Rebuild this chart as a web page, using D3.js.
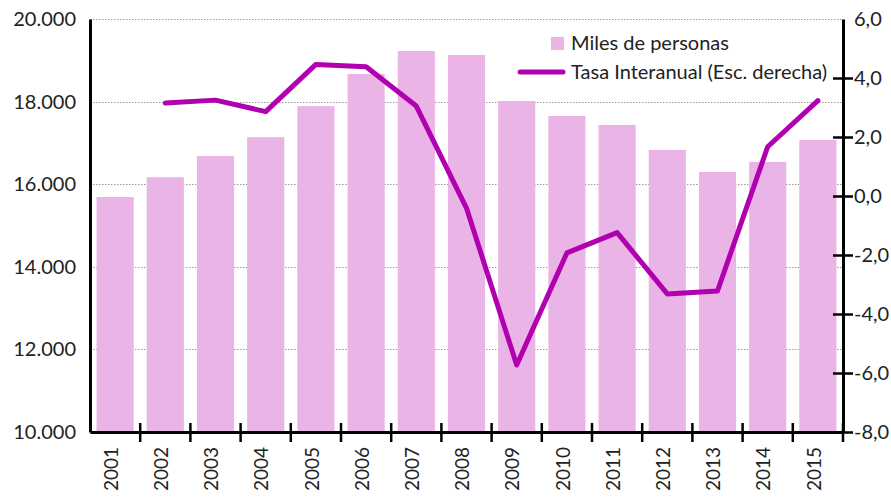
<!DOCTYPE html>
<html lang="es">
<head>
<meta charset="UTF-8">
<title>Miles de personas y tasa interanual</title>
<script src="https://d3js.org/d3.v7.min.js"></script>
<style>
    body { margin: 0; background: #fff; }
    text { font-family: Lato, "Open Sans", sans-serif; fill: #222; }
</style>
</head>
<body>
<div class="canvas"></div>
<script>
    // datos
    const years = ['2001','2002','2003','2004','2005','2006','2007','2008','2009','2010','2011','2012','2013','2014','2015']
    const miles = [15690, 16170, 16680, 17140, 17890, 18670, 19225, 19130, 18015, 17650, 17435, 16830, 16295, 16540, 17070]
    const tasa = [null, 3.15, 3.25, 2.86, 4.46, 4.38, 3.05, -0.41, -5.73, -1.93, -1.24, -3.32, -3.22, 1.67, 3.23]
    const leftTicks = [10000, 12000, 14000, 16000, 18000, 20000]
    const rightTicks = [-8, -6, -4, -2, 0, 2, 4, 6]
    const seriesNames = ['Miles de personas', 'Tasa Interanual (Esc. derecha)']

    const width = 891
    const height = 497
    let [mt, mb, ml, mr] = [19, 65, 90, 48]

    const barColor = '#eab4e6'
    const lineColor = '#b000b0'

    const es = d3.formatLocale({decimal: ',', thousands: '.', grouping: [3], currency: ['', ' €'], minus: '-'})

    const svg = d3.select('.canvas')
                .append('svg')
                .attr('width', width)
                .attr('height', height)

    const x = d3.scaleBand()
                .domain(years)
                .range([ml, width - mr])
    const yL = d3.scaleLinear()
                .domain([10000, 20000])
                .range([height - mb, mt])
    const yR = d3.scaleLinear()
                .domain([-8, 6])
                .range([height - mb, mt])

    // rejilla punteada
    svg.append('g')
        .selectAll('line')
        .data(leftTicks.slice(1))
        .join('line')
        .attr('x1', ml)
        .attr('x2', width - mr)
        .attr('y1', d => Math.round(yL(d)) + 0.5)
        .attr('y2', d => Math.round(yL(d)) + 0.5)
        .attr('stroke', '#9a9a9a')
        .attr('stroke-width', 1)
        .attr('stroke-dasharray', '1.5,1.5')

    // barras
    const barW = x.bandwidth() * 0.74
    svg.append('g')
        .selectAll('rect')
        .data(miles)
        .join('rect')
        .attr('x', (d, i) => x(years[i]) + (x.bandwidth() - barW) / 2)
        .attr('y', d => yL(d))
        .attr('width', barW)
        .attr('height', d => yL(10000) - yL(d))
        .attr('fill', barColor)

    // línea
    const line = d3.line()
                    .defined(d => d[1] != null)
                    .x(d => x(d[0]) + x.bandwidth() / 2)
                    .y(d => yR(d[1]))
    svg.append('path')
        .attr('d', line(years.map((y, i) => [y, tasa[i]])))
        .attr('fill', 'none')
        .attr('stroke', lineColor)
        .attr('stroke-width', 5)
        .attr('stroke-linecap', 'round')
        .attr('stroke-linejoin', 'round')

    // eje izquierdo
    const leftAxis = svg.append('g')
        .attr('transform', `translate(${ml}, 0)`)
        .call(d3.axisLeft(yL).tickValues(leftTicks).tickSize(0).tickPadding(14).tickFormat(es.format(',.0f')))
    leftAxis.select('.domain').attr('stroke', '#000').attr('stroke-width', 3)
    leftAxis.selectAll('text').style('font-size', '20px').attr('fill', '#222')

    // eje derecho
    const rightAxis = svg.append('g')
        .attr('transform', `translate(${width - mr}, 0)`)
        .call(d3.axisRight(yR).tickValues(rightTicks).tickSizeInner(10).tickSizeOuter(0).tickPadding(1).tickFormat(es.format('.1f')))
    rightAxis.select('.domain').attr('stroke', '#000').attr('stroke-width', 3)
    rightAxis.selectAll('.tick line')
        .attr('x1', -10)
        .attr('stroke', '#000')
        .attr('stroke-width', 2.5)
        .attr('display', d => d === 6 ? 'none' : null)
    rightAxis.selectAll('text').style('font-size', '20px').attr('fill', '#222')

    // eje inferior
    const xAxis = svg.append('g')
        .attr('transform', `translate(0, ${height - mb})`)
        .call(d3.axisBottom(x).tickSize(0).tickPadding(0))
    xAxis.select('.domain').attr('stroke', '#000').attr('stroke-width', 3)
    xAxis.selectAll('text')
        .style('font-size', '19px')
        .attr('fill', '#222')
        .attr('transform', 'rotate(-90)')
        .attr('text-anchor', 'end')
        .attr('x', -15)
        .attr('y', -4)
        .attr('dy', '0.35em')
    xAxis.append('g')
        .selectAll('line')
        .data(years.slice(1).concat(['end']))
        .join('line')
        .attr('x1', d => d === 'end' ? x.range()[1] : x(d))
        .attr('x2', d => d === 'end' ? x.range()[1] : x(d))
        .attr('y1', -9)
        .attr('y2', 10)
        .attr('stroke', '#000')
        .attr('stroke-width', 2.5)

    // leyenda
    const legend = svg.append('g').attr('transform', 'translate(551, 0)')
    legend.append('rect')
        .attr('x', 0).attr('y', 37)
        .attr('width', 13).attr('height', 13)
        .attr('fill', barColor)
    legend.append('text')
        .attr('x', 20).attr('y', 50)
        .style('font-size', '20px')
        .text(seriesNames[0])
    legend.append('line')
        .attr('x1', -31).attr('x2', 12)
        .attr('y1', 72).attr('y2', 72)
        .attr('stroke', lineColor)
        .attr('stroke-width', 5)
        .attr('stroke-linecap', 'round')
    legend.append('text')
        .attr('x', 20).attr('y', 79)
        .style('font-size', '20px')
        .text(seriesNames[1])
</script>
</body>
</html>
